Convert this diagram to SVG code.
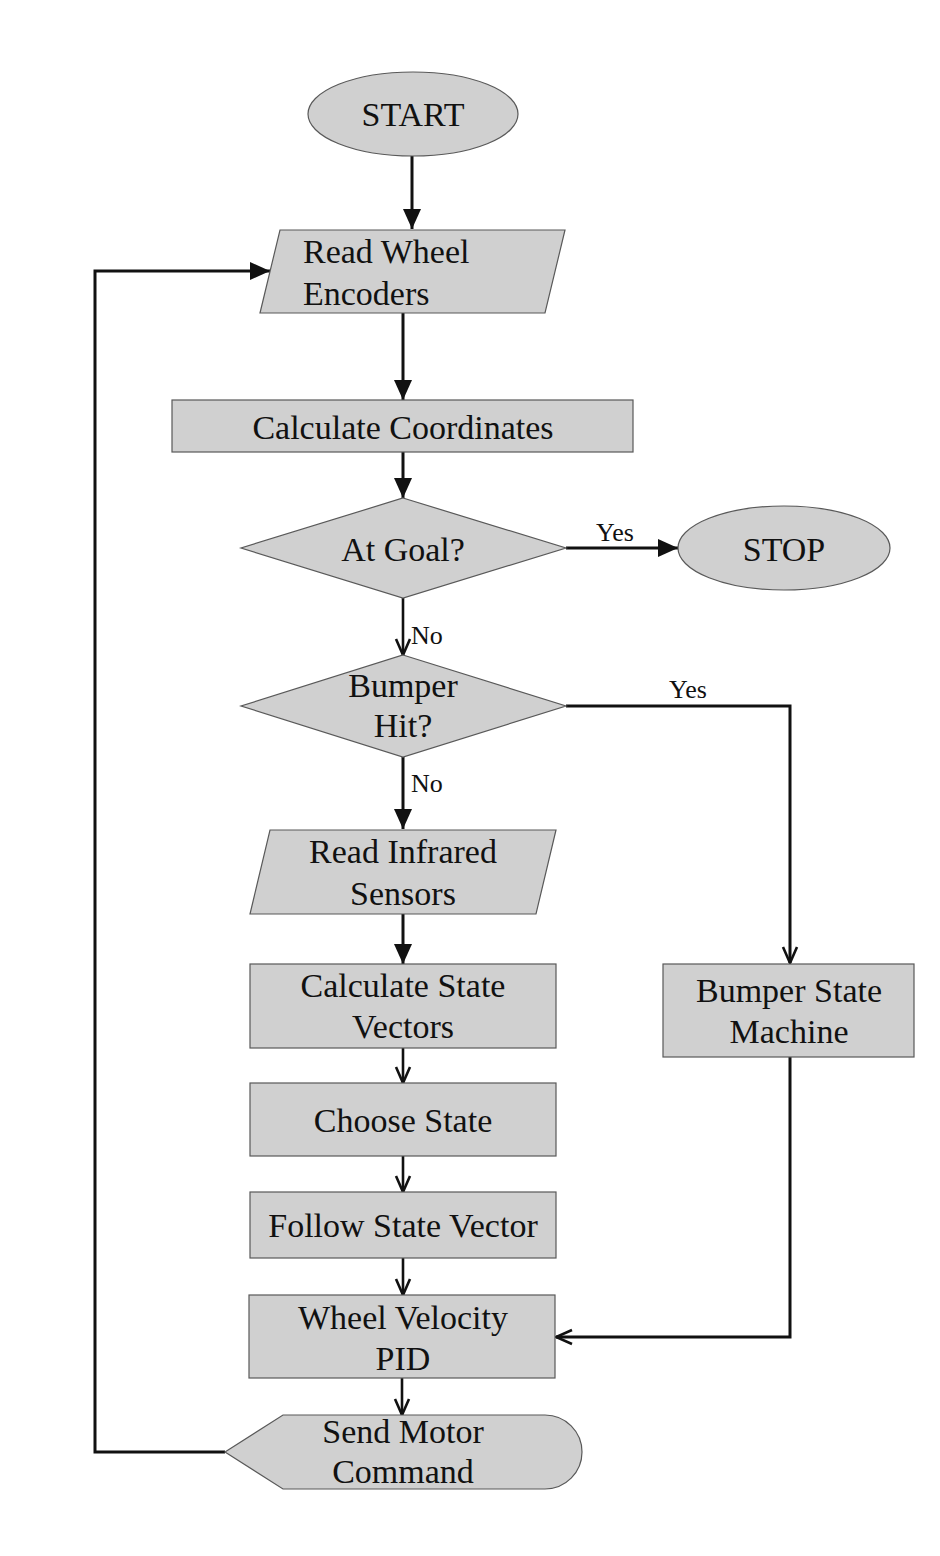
<svg xmlns="http://www.w3.org/2000/svg" width="940" height="1556" viewBox="0 0 940 1556">
<style>
.shape{fill:#d0d0d0;stroke:#595959;stroke-width:1.2}
text{font-family:'Liberation Serif','DejaVu Serif',serif;fill:#111}
.t{font-size:34px;text-anchor:middle}
.tl{font-size:34px}
.lbl{font-size:26px}
.c{fill:none;stroke:#111;stroke-width:3}
.co{fill:none;stroke:#111;stroke-width:2.6}
</style>
<defs>
<marker id="af" markerUnits="userSpaceOnUse" markerWidth="22" markerHeight="18" refX="20" refY="9" orient="auto">
<path d="M0,0 L20,9 L0,18 Z" fill="#111"/>
</marker>
<marker id="ao" markerUnits="userSpaceOnUse" markerWidth="20" markerHeight="18" refX="17" refY="9" orient="auto">
<path d="M1,2 L17,9 L1,16" fill="none" stroke="#111" stroke-width="2.6"/>
</marker>
</defs>
<rect width="940" height="1556" fill="#fff"/>
<g id="connectors">
<line class="c" x1="412" y1="156" x2="412" y2="229" marker-end="url(#af)"/>
<line class="c" x1="403" y1="313" x2="403" y2="400" marker-end="url(#af)"/>
<line class="c" x1="403" y1="452" x2="403" y2="498" marker-end="url(#af)"/>
<line class="c" x1="566" y1="548" x2="678" y2="548" marker-end="url(#af)"/>
<line class="co" x1="403" y1="598" x2="403" y2="655" marker-end="url(#ao)"/>
<polyline class="c" points="566,706 790,706 790,963" marker-end="url(#ao)"/>
<line class="c" x1="403" y1="757" x2="403" y2="829" marker-end="url(#af)"/>
<line class="c" x1="403" y1="914" x2="403" y2="964" marker-end="url(#af)"/>
<line class="co" x1="403" y1="1048" x2="403" y2="1083" marker-end="url(#ao)"/>
<line class="co" x1="403" y1="1156" x2="403" y2="1192" marker-end="url(#ao)"/>
<line class="co" x1="403" y1="1258" x2="403" y2="1295" marker-end="url(#ao)"/>
<polyline class="c" points="790,1057 790,1337 556,1337" marker-end="url(#ao)"/>
<line class="co" x1="402" y1="1378" x2="402" y2="1415" marker-end="url(#ao)"/>
<polyline class="c" points="225,1452 95,1452 95,271 270,271" marker-end="url(#af)"/>
<text class="lbl" x="615" y="541" text-anchor="middle">Yes</text>
<text class="lbl" x="411" y="644">No</text>
<text class="lbl" x="688" y="698" text-anchor="middle">Yes</text>
<text class="lbl" x="411" y="792">No</text>
</g>
<g id="start">
<ellipse class="shape" cx="413" cy="114" rx="105" ry="42"/>
<text class="t" x="413" y="126">START</text>
</g>
<g id="read-wheel-encoders">
<polygon class="shape" points="280,230 565,230 545,313 260,313"/>
<text class="tl" x="303" y="263">Read Wheel</text>
<text class="tl" x="303" y="305">Encoders</text>
</g>
<g id="calculate-coordinates">
<rect class="shape" x="172" y="400" width="461" height="52"/>
<text class="t" x="403" y="439">Calculate Coordinates</text>
</g>
<g id="at-goal">
<polygon class="shape" points="403,498 566,548 403,598 241,548"/>
<text class="t" x="403" y="561">At Goal?</text>
</g>
<g id="stop">
<ellipse class="shape" cx="784" cy="548" rx="106" ry="42"/>
<text class="t" x="784" y="561">STOP</text>
</g>
<g id="bumper-hit">
<polygon class="shape" points="403,655 566,706 403,757 241,706"/>
<text class="t" x="403" y="697">Bumper</text>
<text class="t" x="403" y="737">Hit?</text>
</g>
<g id="read-infrared-sensors">
<polygon class="shape" points="270,830 556,830 536,914 250,914"/>
<text class="t" x="403" y="863">Read Infrared</text>
<text class="t" x="403" y="905">Sensors</text>
</g>
<g id="calculate-state-vectors">
<rect class="shape" x="250" y="964" width="306" height="84"/>
<text class="t" x="403" y="997">Calculate State</text>
<text class="t" x="403" y="1038">Vectors</text>
</g>
<g id="choose-state">
<rect class="shape" x="250" y="1083" width="306" height="73"/>
<text class="t" x="403" y="1132">Choose State</text>
</g>
<g id="follow-state-vector">
<rect class="shape" x="250" y="1192" width="306" height="66"/>
<text class="t" x="403" y="1237">Follow State Vector</text>
</g>
<g id="bumper-state-machine">
<rect class="shape" x="663" y="964" width="251" height="93"/>
<text class="t" x="789" y="1002">Bumper State</text>
<text class="t" x="789" y="1043">Machine</text>
</g>
<g id="wheel-velocity-pid">
<rect class="shape" x="249" y="1295" width="306" height="83"/>
<text class="t" x="403" y="1329">Wheel Velocity</text>
<text class="t" x="403" y="1370">PID</text>
</g>
<g id="send-motor-command">
<path class="shape" d="M225,1452 L283,1415 L545,1415 A37,37 0 0 1 545,1489 L283,1489 Z"/>
<text class="t" x="403" y="1443">Send Motor</text>
<text class="t" x="403" y="1483">Command</text>
</g>
</svg>
